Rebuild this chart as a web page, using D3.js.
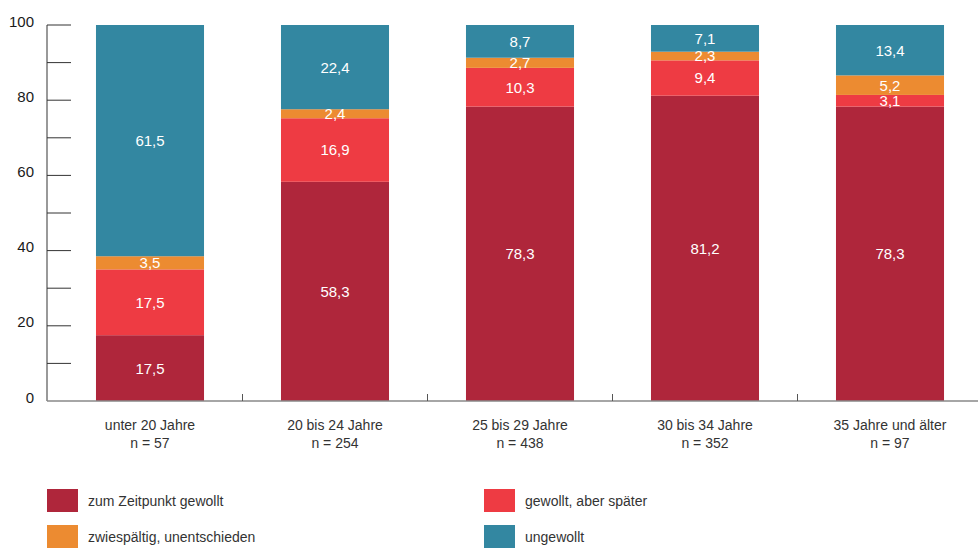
<!DOCTYPE html>
<html>
<head>
<meta charset="utf-8">
<script src="https://cdn.jsdelivr.net/npm/d3@7"></script>
<style>
  html, body { margin: 0; padding: 0; background: #fff; }
  svg { display: block; font-family: "Liberation Sans", Arial, sans-serif; }
</style>
</head>
<body>
<svg id="chart" width="978" height="548"></svg>
<script>
// Age groups and sample sizes
const categories = ["unter 20 Jahre", "20 bis 24 Jahre", "25 bis 29 Jahre", "30 bis 34 Jahre", "35 Jahre und älter"];
const sampleSizes = ["n = 57", "n = 254", "n = 438", "n = 352", "n = 97"];

// Share of each answer per age group (percent)
const seriesNames = ["zum Zeitpunkt gewollt", "gewollt, aber später", "zwiespältig, unentschieden", "ungewollt"];
const gewolltZeitpunkt = [17.5, 58.3, 78.3, 81.2, 78.3];
const gewolltSpaeter   = [17.5, 16.9, 10.3, 9.4, 3.1];
const zwiespaeltig     = [3.5, 2.4, 2.7, 2.3, 5.2];
const ungewollt        = [61.5, 22.4, 8.7, 7.1, 13.4];
const seriesColors = ["#AF263B", "#EE3B43", "#EC8B31", "#3387A1"];

const yTicks = [0, 10, 20, 30, 40, 50, 60, 70, 80, 90, 100];
const yTickLabels = [0, 20, 40, 60, 80, 100];

const svg = d3.select("#chart");

const rows = categories.map((c, i) => ({
  cat: c,
  [seriesNames[0]]: gewolltZeitpunkt[i],
  [seriesNames[1]]: gewolltSpaeter[i],
  [seriesNames[2]]: zwiespaeltig[i],
  [seriesNames[3]]: ungewollt[i]
}));

const stacked = d3.stack().keys(seriesNames)(rows);

const x = d3.scaleBand().domain(categories).range([57.5, 982.5]).paddingInner(0.416).paddingOuter(0.208);
const y = d3.scaleLinear().domain([0, 100]).range([401, 25]);
const color = d3.scaleOrdinal().domain(seriesNames).range(seriesColors);

const axisLeftX = 47;

// Bars
const layers = svg.append("g").selectAll("g")
  .data(stacked).join("g")
  .attr("fill", d => color(d.key));

layers.selectAll("rect")
  .data(d => d).join("rect")
  .attr("x", d => x(d.data.cat))
  .attr("width", x.bandwidth())
  .attr("y", d => y(d[1]))
  .attr("height", d => y(d[0]) - y(d[1]));

// Value labels inside segments
const labels = svg.append("g")
  .attr("fill", "#fff")
  .attr("font-size", 15)
  .attr("text-anchor", "middle");
stacked.forEach(layer => {
  labels.selectAll(null)
    .data(layer).join("text")
    .attr("x", d => x(d.data.cat) + x.bandwidth() / 2)
    .attr("y", d => y((d[0] + d[1]) / 2))
    .attr("dy", "0.36em")
    .text(d => d3.format(".1f")(d[1] - d[0]).replace(".", ","));
});

// Y axis
const yAxis = svg.append("g");
yAxis.append("line")
  .attr("x1", axisLeftX).attr("x2", axisLeftX)
  .attr("y1", y(100)).attr("y2", y(0))
  .attr("stroke", "#777").attr("stroke-width", 1.5);
yAxis.selectAll("line.tick")
  .data(yTicks.filter(t => t > 0)).join("line")
  .attr("class", "tick")
  .attr("x1", axisLeftX).attr("x2", 71)
  .attr("y1", d => y(d)).attr("y2", d => y(d))
  .attr("stroke", "#333").attr("stroke-width", 1);
yAxis.selectAll("text")
  .data(yTickLabels).join("text")
  .attr("x", 34)
  .attr("y", d => y(d) + 1.5)
  .attr("text-anchor", "end")
  .attr("font-size", 15)
  .attr("fill", "#1a1a1a")
  .text(d => d);

// X axis
const xAxis = svg.append("g");
xAxis.append("line")
  .attr("x1", axisLeftX).attr("x2", 978)
  .attr("y1", y(0)).attr("y2", y(0))
  .attr("stroke", "#888").attr("stroke-width", 1.5);
xAxis.selectAll("line.tick")
  .data(categories.slice(1)).join("line")
  .attr("class", "tick")
  .attr("x1", d => x(d) - x.step() * x.paddingInner() / 2)
  .attr("x2", d => x(d) - x.step() * x.paddingInner() / 2)
  .attr("y1", y(0) - 7).attr("y2", y(0))
  .attr("stroke", "#555").attr("stroke-width", 1);

xAxis.selectAll("text.cat")
  .data(categories).join("text")
  .attr("class", "cat")
  .attr("x", d => x(d) + x.bandwidth() / 2)
  .attr("y", 430)
  .attr("text-anchor", "middle")
  .attr("font-size", 14)
  .attr("fill", "#333")
  .text(d => d);
xAxis.selectAll("text.n")
  .data(categories).join("text")
  .attr("class", "n")
  .attr("x", d => x(d) + x.bandwidth() / 2)
  .attr("y", 448)
  .attr("text-anchor", "middle")
  .attr("font-size", 14)
  .attr("fill", "#333")
  .text((d, i) => sampleSizes[i]);

// Legend, two columns
const legendPos = [[47, 489], [484, 489], [47, 525], [484, 525]];
const legend = svg.append("g").selectAll("g")
  .data(seriesNames).join("g")
  .attr("transform", (d, i) => `translate(${legendPos[i][0]},${legendPos[i][1]})`);
legend.append("rect")
  .attr("width", 31).attr("height", 23)
  .attr("fill", d => color(d));
legend.append("text")
  .attr("x", 41).attr("y", 12)
  .attr("dy", "0.35em")
  .attr("font-size", 14)
  .attr("fill", "#333")
  .text(d => d);
</script>
</body>
</html>
